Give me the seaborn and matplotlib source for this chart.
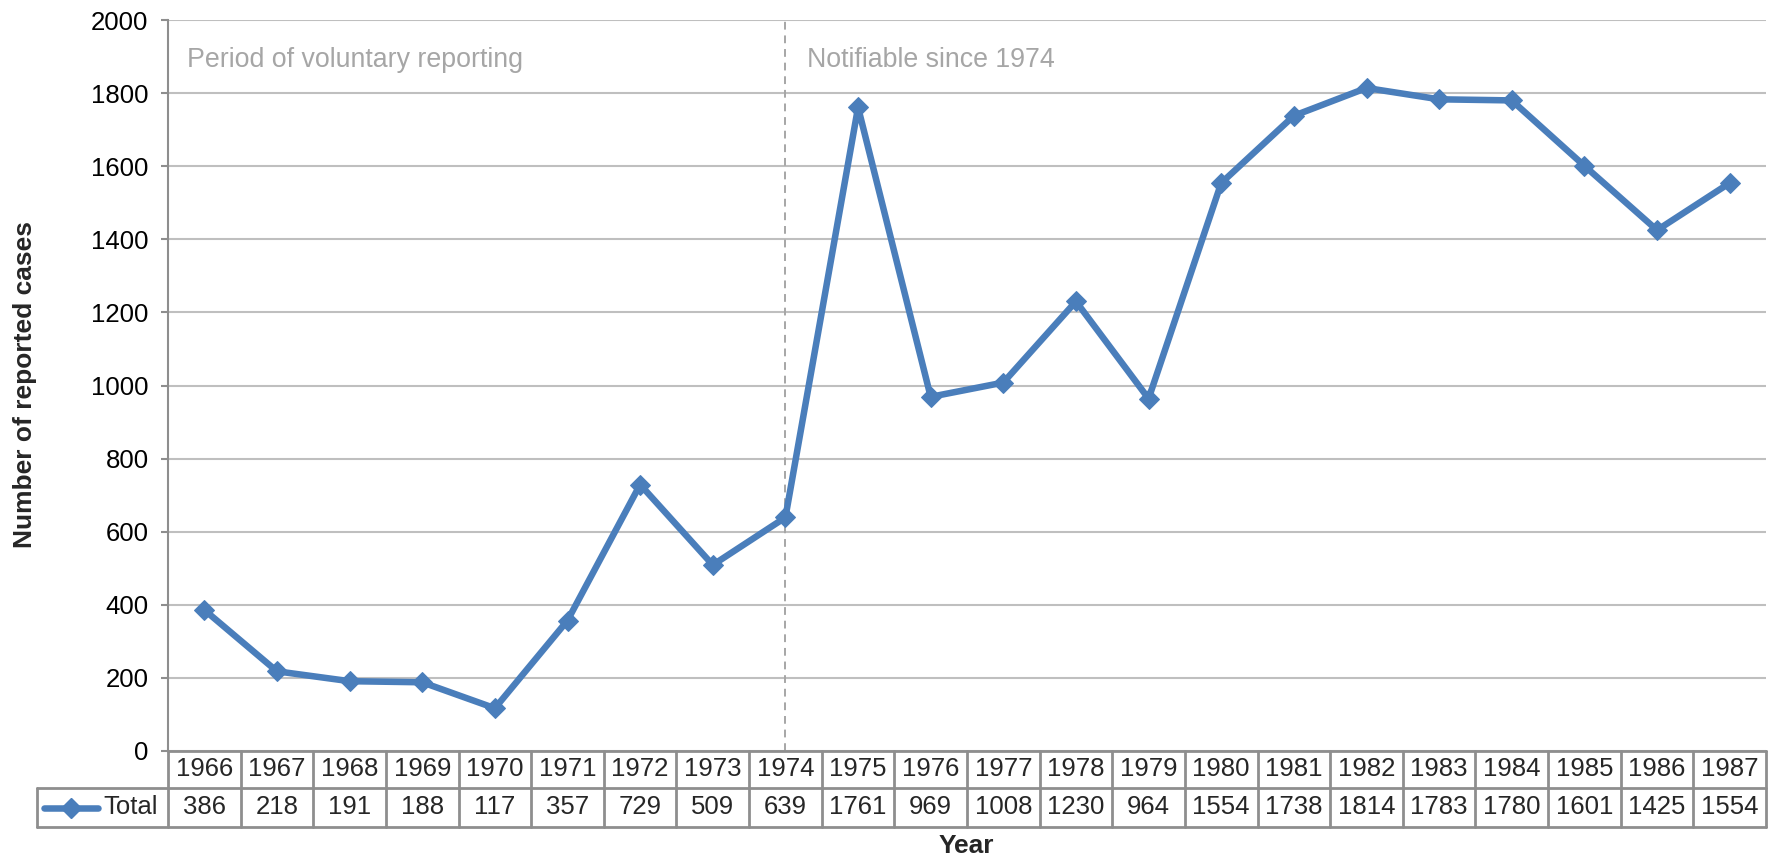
import matplotlib
matplotlib.use("Agg")
import matplotlib.pyplot as plt
import matplotlib.transforms as mtransforms
import numpy as np
import pandas as pd
import seaborn as sns

years = ["1966", "1967", "1968", "1969", "1970", "1971", "1972", "1973", "1974",
         "1975", "1976", "1977", "1978", "1979", "1980", "1981", "1982", "1983",
         "1984", "1985", "1986", "1987"]
total = [386, 218, 191, 188, 117, 357, 729, 509, 639, 1761, 969, 1008, 1230,
         964, 1554, 1738, 1814, 1783, 1780, 1601, 1425, 1554]
series_name = "Total"
notes = ["Period of voluntary reporting", "Notifiable since 1974"]
split_year = "1974"

W, H = 1768, 860
BLUE = "#4A7EBB"
GRID = "#BFBFBF"
BORDER = "#8E8E8E"
NOTE = "#A6A6A6"
FS = 18.5

sns.set_theme(style="white")
plt.rcParams["font.family"] = ["Liberation Sans", "DejaVu Sans"]
plt.rcParams["font.size"] = FS

data = pd.DataFrame({"pos": np.arange(len(years)), "year": years, "cases": total})

fig = plt.figure(figsize=(W / 100, H / 100), dpi=100)
# plot area in pixels: left 168, right 1766, top 20, bottom 751
ax = fig.add_axes([168 / W, (H - 751) / H, (1766 - 168) / W, (751 - 20) / H])

sns.lineplot(data=data, x="pos", y="cases", ax=ax, color=BLUE, linewidth=4.7,
             marker="D", markersize=10, markeredgecolor=BLUE, zorder=5)

ax.set_xlim(-0.5, len(years) - 0.5)
ax.set_ylim(0, 2000)
ax.set_yticks(range(0, 2001, 200))
ax.set_xticks([])
ax.set_xlabel("")
ax.set_ylabel("")
ax.grid(axis="y", color=GRID, linewidth=1.5)
ax.set_axisbelow(True)
for s in ["top", "right", "bottom"]:
    ax.spines[s].set_visible(False)
ax.spines["left"].set_color(BORDER)
ax.spines["left"].set_linewidth(1.5)
ax.tick_params(axis="y", which="major", left=True, length=5, width=1.5,
               color=BORDER, pad=9, labelsize=FS, labelcolor="black")

# split line and notes
split = years.index(split_year)
ax.axvline(split, color=NOTE, linestyle=(0, (4, 3)), linewidth=1.4, zorder=2)
ax.text(-0.24, 1890, notes[0], color=NOTE, fontsize=19.3, va="center", ha="left")
ax.text(split + 0.3, 1890, notes[1], color=NOTE, fontsize=19.3, va="center", ha="left")

# data table under the axis
trans = mtransforms.blended_transform_factory(ax.transData, fig.transFigure)
fy = lambda py: (H - py) / H
fx = lambda px: px / W
y0, y1, y2 = 751, 788, 827
n = len(years)
lw = 2.0
fig.add_artist(plt.Line2D([fx(168), fx(1766)], [fy(y0), fy(y0)], color=BORDER, lw=lw))
fig.add_artist(plt.Line2D([fx(37), fx(1766)], [fy(y1), fy(y1)], color=BORDER, lw=lw))
fig.add_artist(plt.Line2D([fx(37), fx(1766)], [fy(y2), fy(y2)], color=BORDER, lw=lw))
for i in range(n + 1):
    fig.add_artist(plt.Line2D([i - 0.5, i - 0.5], [fy(y0), fy(y2)], color=BORDER,
                              lw=lw, transform=trans))
fig.add_artist(plt.Line2D([fx(37), fx(37)], [fy(y1), fy(y2)], color=BORDER, lw=lw))
for i, (yr, v) in enumerate(zip(years, total)):
    fig.text(i, fy((y0 + y1) / 2), yr, transform=trans, ha="center", va="center",
             fontsize=FS)
    fig.text(i, fy((y1 + y2) / 2), str(v), transform=trans, ha="center", va="center",
             fontsize=FS)
# legend key
ym = fy((y1 + y2) / 2)
fig.add_artist(plt.Line2D([fx(44), fx(98)], [ym, ym], color=BLUE, lw=4.7,
                          solid_capstyle="round"))
fig.add_artist(plt.Line2D([fx(71)], [ym], color=BLUE, marker="D", markersize=10))
fig.text(fx(103), ym, series_name, ha="left", va="center", fontsize=FS)

# axis titles
fig.text(fx(966), fy(846), "Year", ha="center", va="center", fontsize=19,
         fontweight="bold")
fig.text(fx(25), fy(385), "Number of reported cases", ha="center", va="center",
         rotation=90, fontsize=19, fontweight="bold")

fig.savefig("out.png", dpi=100)
